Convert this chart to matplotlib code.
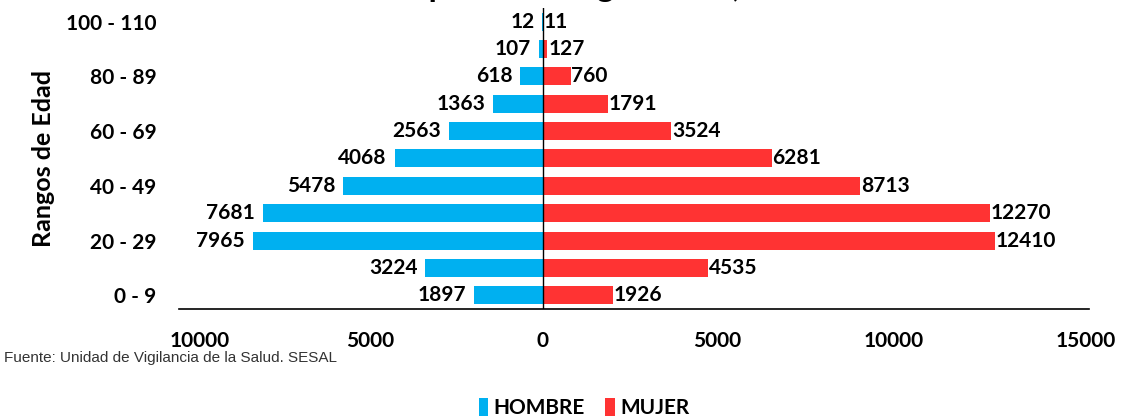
import matplotlib.pyplot as plt
import matplotlib.transforms as mtransforms
import numpy as np

rangos = ["0 - 9", "10 - 19", "20 - 29", "30 - 39", "40 - 49", "50 - 59",
          "60 - 69", "70 - 79", "80 - 89", "90 - 99", "100 - 110"]
hombre = [1897, 3224, 7965, 7681, 5478, 4068, 2563, 1363, 618, 107, 12]
mujer = [1926, 4535, 12410, 12270, 8713, 6281, 3524, 1791, 760, 127, 11]
x_ticks = [-10000, -5000, 0, 5000, 10000, 15000]

plt.rcParams['font.family'] = ['Lato', 'DejaVu Sans']
azul = "#00B0F0"
rojo = "#FF3333"
fs = 15

fig = plt.figure(figsize=(11.23, 4.17), dpi=100)
ax = fig.add_axes([0.159, 0.259, 0.811, 0.722])

y = np.arange(len(rangos))
ax.barh(y, [-v for v in hombre], height=0.66, color=azul, label="HOMBRE")
ax.barh(y, mujer, height=0.66, color=rojo, label="MUJER")

for i in range(len(rangos)):
    ax.text(-hombre[i] - 220, y[i], str(hombre[i]), ha="right", va="center",
            fontsize=fs, fontweight="bold")
    ax.text(mujer[i] + 20, y[i], str(mujer[i]), ha="left", va="center",
            fontsize=fs, fontweight="bold")

ax.axvline(0, color="black", lw=1)
ax.set_xlim(-10000, 15000)
ax.set_ylim(-0.5, len(rangos) - 0.5)
ax.set_xticks(x_ticks)
ax.set_xticklabels([str(abs(t)) for t in x_ticks], fontsize=fs, fontweight="bold")
ax.set_yticks(y)
ax.set_yticklabels([r if i % 2 == 0 else "" for i, r in enumerate(rangos)],
                   fontsize=fs, fontweight="bold")
ax.tick_params(axis="both", length=0)
ax.tick_params(axis="x", pad=16)
ax.tick_params(axis="y", pad=16)
for s in ["top", "right", "left"]:
    ax.spines[s].set_visible(False)
ax.spines["bottom"].set_linewidth(1.2)
ax.set_ylabel("Rangos de Edad", fontsize=18, fontweight="bold", labelpad=8)

# excel squeezes the x tick labels toward the middle
shifts = [21, 9, 0, -8, -14, -4]
for lab, dx in zip(ax.get_xticklabels(), shifts):
    lab.set_transform(lab.get_transform() +
                      mtransforms.ScaledTranslation(dx / 100, 0, fig.dpi_scale_trans))

# title is cropped in the original, only descenders show
fig.text(0.49, 1.007, "Población por sexo según edad, 2021", ha="center",
         va="baseline", fontsize=24, fontweight="bold")
fig.text(0.004, 0.133, "Fuente: Unidad de Vigilancia de la Salud. SESAL",
         fontsize=11, color="#333333",
         family=["Liberation Sans Narrow", "Liberation Sans", "DejaVu Sans"])

fig.legend(loc="center", bbox_to_anchor=(0.52, 0.022), ncol=2, frameon=False,
           prop={"size": fs, "weight": "bold"}, handlelength=0.45,
           handleheight=1.0, handletextpad=0.25, columnspacing=1.0)

fig.savefig("out.png", dpi=100)
